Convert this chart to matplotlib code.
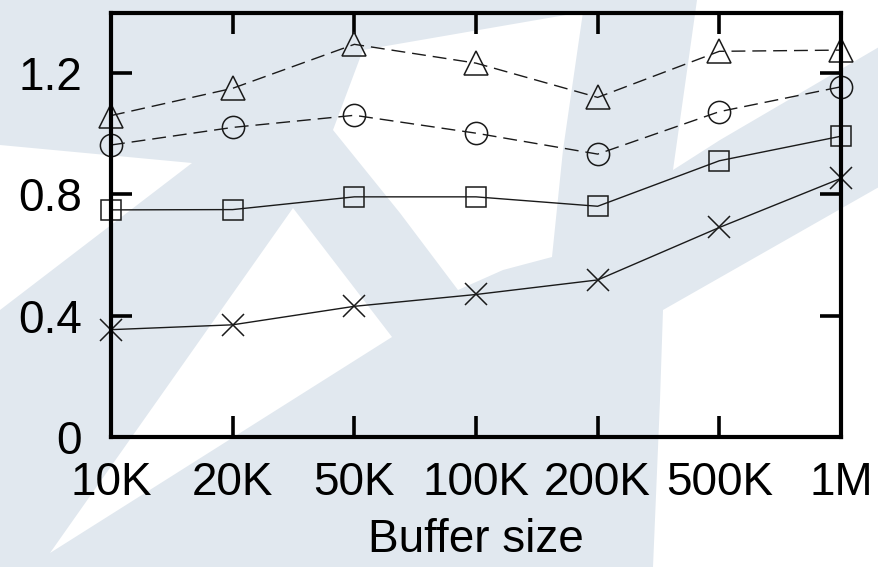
import matplotlib
matplotlib.use("Agg")
import matplotlib.pyplot as plt
from matplotlib.patches import Polygon

plt.rcParams['font.family'] = ['Liberation Sans', 'DejaVu Sans']

# data
buffer_sizes = ["10K", "20K", "50K", "100K", "200K", "500K", "1M"]
tri_vals = [1.06, 1.15, 1.295, 1.233, 1.12, 1.272, 1.276]
circ_vals = [0.963, 1.021, 1.061, 1.002, 0.933, 1.073, 1.155]
sq_vals = [0.749, 0.750, 0.792, 0.792, 0.761, 0.911, 0.992]
cross_vals = [0.354, 0.370, 0.431, 0.470, 0.518, 0.691, 0.853]
yticks = [0, 0.4, 0.8, 1.2]

# light watermark behind the chart (white holes cut out of a pale background), pixel coords
bg_color = "#e1e8ef"
holes = [
    [(0, 145), (192, 163), (0, 310)],
    [(293, 208), (392, 337), (50, 553)],
    [(363, 50), (583, 12), (563, 150), (552, 257), (503, 270), (458, 290), (400, 213), (333, 130)],
    [(697, 0), (879, 0), (879, 47), (720, 140), (673, 170)],
    [(663, 310), (879, 187), (879, 567), (653, 567), (660, 400)],
]

W, H = 879, 567
fig = plt.figure(figsize=(W / 100, H / 100), dpi=100)
fig.patch.set_facecolor(bg_color)

bg = fig.add_axes([0, 0, 1, 1])
bg.set_xlim(0, W)
bg.set_ylim(H, 0)
bg.axis("off")
for h in holes:
    bg.add_patch(Polygon(h, closed=True, facecolor="white", edgecolor="none"))

ax = fig.add_axes([111 / W, 1 - 437 / H, (841 - 111) / W, (437 - 12.5) / H])
ax.set_facecolor("none")

x = list(range(len(buffer_sizes)))
style = dict(color="#1a1a1a", lw=1.0, mfc="none", mec="#1a1a1a", mew=1.1, clip_on=False)
ax.plot(x, tri_vals, marker="^", ms=17, dashes=(10, 5), **style)
ax.plot(x, circ_vals, marker="o", ms=16, dashes=(10, 5), **style)
ax.plot(x, sq_vals, marker="s", ms=15, **style)
ax.plot(x, cross_vals, marker="x", ms=16, **style)

ax.set_xlim(0, len(buffer_sizes) - 1)
ax.set_ylim(0, 1.4)
ax.set_xticks(x)
ax.set_xticklabels(buffer_sizes)
ax.set_yticks(yticks)
ax.set_yticklabels(["0", "0.4", "0.8", "1.2"])

for s in ax.spines.values():
    s.set_linewidth(3)
ax.tick_params(direction="in", length=15, width=2.6, top=True, right=True,
               labelsize=33)
ax.tick_params(axis="x", pad=17)
ax.tick_params(axis="y", pad=21)
ax.set_xlabel("Buffer size", fontsize=33, labelpad=10)

fig.savefig("out.png", dpi=100, facecolor=bg_color)
